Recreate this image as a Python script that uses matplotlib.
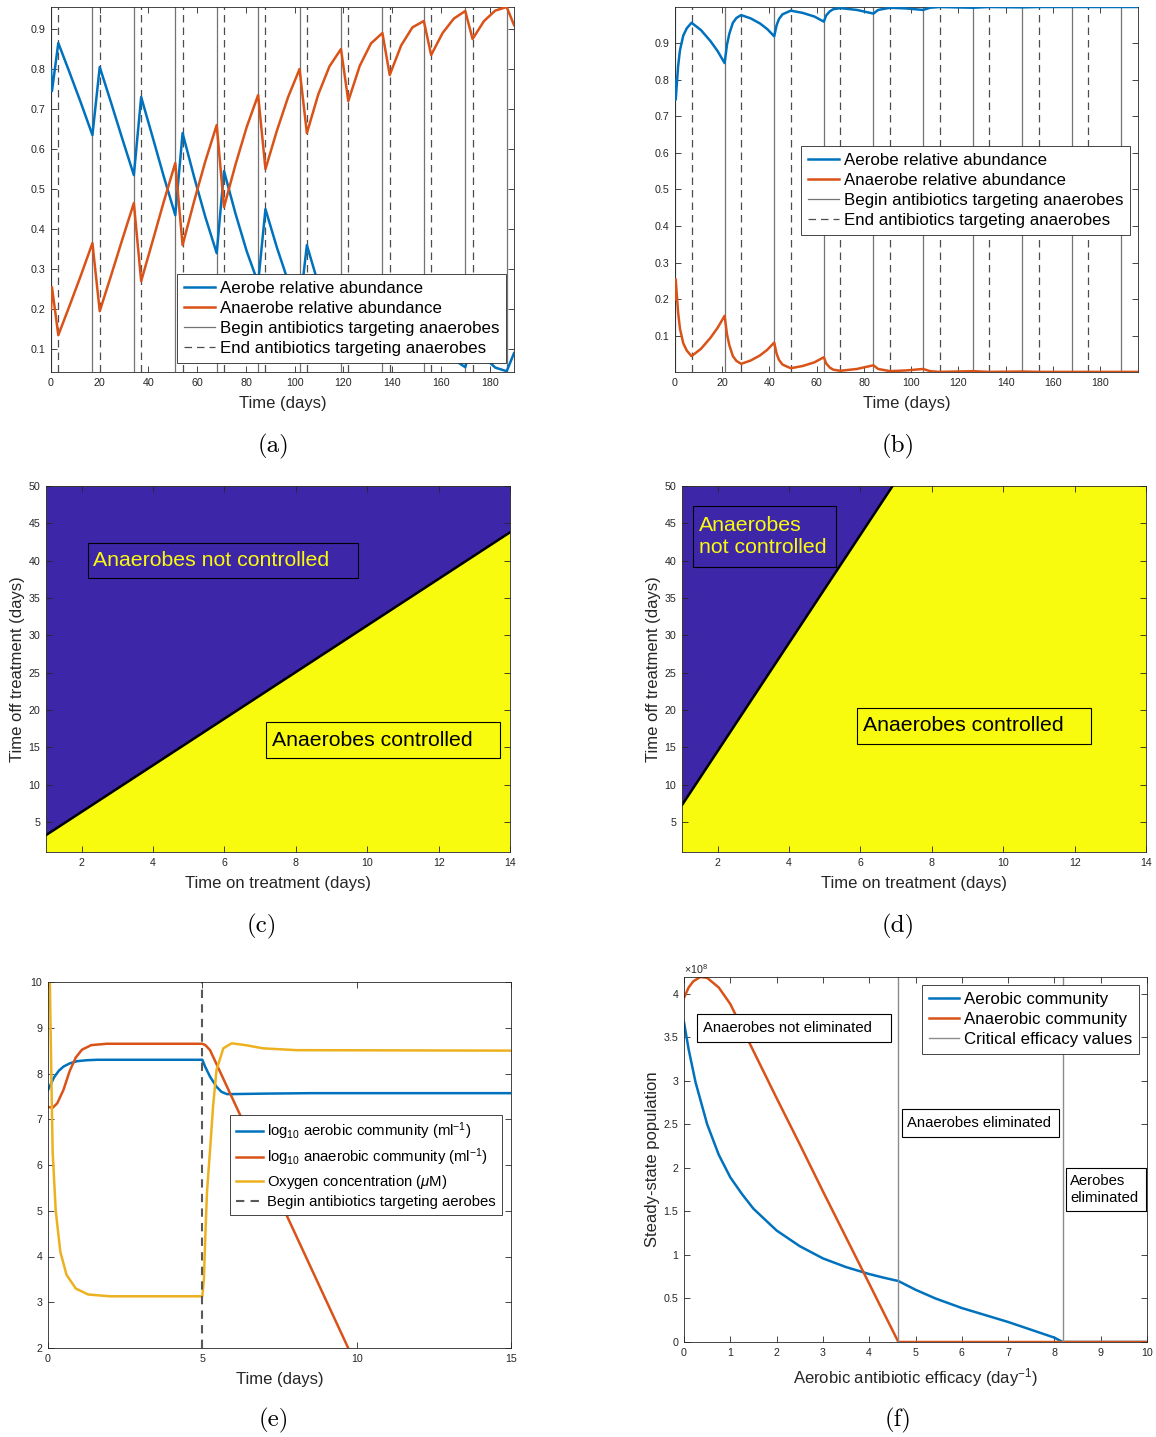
import matplotlib
matplotlib.use('Agg')
import matplotlib.pyplot as plt
from matplotlib.patches import Rectangle

BLUE = '#0072BD'
ORANGE = '#D95319'
GOLD = '#EDB120'
PURPLE = '#3E26A8'
BRIGHT = '#F9FB0E'
INK = '#262626'

# (a) anaerobe-targeting antibiotics, 3 days on / 14 days off
days_a = [0, 0.4,
          3, 7.7, 12.3, 17, 20, 24.7, 29.3, 34, 37, 41.7, 46.3, 51, 54, 58.7, 63.3, 68,
          71, 75.7, 80.3, 85, 88, 92.7, 97.3, 102, 105, 109.7, 114.3, 119, 122, 126.7, 131.3, 136,
          139, 143.7, 148.3, 153, 156, 160.7, 165.3, 170, 173, 177.7, 182.3, 187,
          190]
aerobe_a = [0.80, 0.745,
            0.865, 0.79, 0.715, 0.635, 0.805, 0.715, 0.625, 0.535, 0.73, 0.63, 0.531, 0.435,
            0.64, 0.531, 0.431, 0.34, 0.545, 0.439, 0.345, 0.265, 0.45, 0.354, 0.27, 0.20,
            0.36, 0.263, 0.193, 0.15, 0.28, 0.192, 0.136, 0.11, 0.215, 0.141, 0.096, 0.08,
            0.165, 0.11, 0.074, 0.055, 0.125, 0.08, 0.054, 0.045,
            0.09]
anaerobe_a = [0.20, 0.255,
              0.135, 0.21, 0.285, 0.365, 0.195, 0.285, 0.375, 0.465, 0.27, 0.37, 0.469, 0.565,
              0.36, 0.469, 0.569, 0.66, 0.455, 0.561, 0.655, 0.735, 0.55, 0.646, 0.73, 0.80,
              0.64, 0.737, 0.807, 0.85, 0.72, 0.808, 0.864, 0.89, 0.785, 0.859, 0.904, 0.92,
              0.835, 0.89, 0.926, 0.945, 0.875, 0.92, 0.946, 0.955,
              0.91]
begin_a = [0, 17, 34, 51, 68, 85, 102, 119, 136, 153, 170, 187]
end_a = [3, 20, 37, 54, 71, 88, 105, 122, 139, 156, 173]

# (b) 7 days on / 14 days off
days_b = [0, 0.3, 1.3, 2.1, 3.5, 5, 7, 11, 15, 18, 21, 22, 23, 24.5, 26, 28, 32, 36, 39, 42,
          43, 44, 45.5, 49, 54, 59, 63, 64, 65.5, 67, 70, 77, 84, 86, 91, 98, 105, 108, 112,
          119, 126, 133, 147, 154, 168, 175, 196]
aerobe_b = [0.80, 0.745, 0.835, 0.88, 0.92, 0.94, 0.955, 0.935, 0.905, 0.878, 0.845, 0.895,
            0.925, 0.955, 0.968, 0.976, 0.967, 0.953, 0.938, 0.918, 0.948, 0.965, 0.978, 0.988,
            0.982, 0.972, 0.958, 0.975, 0.986, 0.992, 0.995, 0.99, 0.98, 0.99, 0.996, 0.994,
            0.99, 0.996, 0.998, 0.997, 0.996, 0.998, 0.997, 0.998, 0.998, 0.998, 0.998]
anaerobe_b = [0.20, 0.255, 0.165, 0.12, 0.08, 0.06, 0.045, 0.065, 0.095, 0.122, 0.155, 0.105,
              0.075, 0.045, 0.032, 0.024, 0.033, 0.047, 0.062, 0.082, 0.052, 0.035, 0.022, 0.012,
              0.018, 0.028, 0.042, 0.025, 0.014, 0.008, 0.005, 0.01, 0.02, 0.01, 0.004, 0.006,
              0.01, 0.004, 0.002, 0.003, 0.004, 0.002, 0.003, 0.002, 0.002, 0.002, 0.002]
begin_b = [0, 21, 42, 63, 84, 105, 126, 147, 168, 189]
end_b = [7, 28, 49, 70, 91, 112, 133, 154, 175]

# (c), (d) control boundary: critical time off treatment vs time on treatment
on_c = [1, 14]
off_c = [3.26, 43.8]
on_d = [1, 6.9]
off_d = [7.28, 50]

# (e) aerobe-targeting antibiotics starting on day 5
t_aer = [0, 0.1, 0.2, 0.35, 0.5, 0.7, 0.95, 1.25, 1.6, 5.0, 5.09, 5.25, 5.46, 5.62, 5.79,
         6.0, 7.0, 8.5, 15]
log_aer = [7.64, 7.78, 7.92, 8.06, 8.15, 8.22, 8.27, 8.29, 8.30, 8.30, 8.15, 7.93, 7.71,
           7.60, 7.55, 7.55, 7.56, 7.57, 7.57]
t_ana = [0, 0.15, 0.3, 0.5, 0.7, 0.9, 1.1, 1.4, 1.9, 5.0, 5.1, 5.25, 6.0, 10.0]
log_ana = [7.27, 7.25, 7.35, 7.64, 8.05, 8.35, 8.52, 8.62, 8.65, 8.65, 8.62, 8.51, 7.42, 1.6]
t_oxy = [0, 0.06, 0.1, 0.15, 0.25, 0.4, 0.6, 0.9, 1.3, 2.0, 5.0, 5.05, 5.1, 5.15, 5.25,
         5.35, 5.46, 5.68, 5.95, 6.4, 6.97, 8.06, 15]
oxygen = [11, 10, 8.3, 6.3, 5.0, 4.1, 3.6, 3.3, 3.17, 3.13, 3.13, 3.5, 4.5, 5.4, 6.33,
          7.3, 8.08, 8.55, 8.66, 8.62, 8.55, 8.51, 8.5]
start_e = 5

# (f) steady states vs aerobic antibiotic efficacy (populations in units of 1e8)
efficacy = [0, 0.1, 0.25, 0.5, 0.75, 1.0, 1.25, 1.5, 2.0, 2.5, 3.0, 3.5, 4.0, 4.3, 4.63,
            5.0, 5.43, 6.0, 6.5, 7.0, 7.5, 8.0, 8.18, 9.0, 10.0]
aerobic_f = [3.67, 3.36, 2.98, 2.50, 2.15, 1.89, 1.70, 1.53, 1.28, 1.10, 0.96, 0.86, 0.78,
             0.74, 0.70, 0.60, 0.50, 0.39, 0.31, 0.23, 0.14, 0.05, 0.0, 0.0, 0.0]
eff_ana = [0, 0.1, 0.2, 0.35, 0.5, 0.75, 1.0, 1.5, 2.0, 2.5, 3.0, 3.5, 4.0, 4.3, 4.63, 10.0]
anaerobic_f = [3.95, 4.07, 4.14, 4.19, 4.18, 4.07, 3.88, 3.34, 2.80, 2.27, 1.73, 1.20, 0.67,
               0.35, 0.0, 0.0]
critical = [4.63, 8.18]

plt.rcParams['font.family'] = ['Liberation Sans', 'DejaVu Sans']
plt.rcParams['mathtext.fontset'] = 'custom'
plt.rcParams['mathtext.rm'] = 'Liberation Sans'
plt.rcParams['mathtext.it'] = 'Liberation Sans:italic'
plt.rcParams['mathtext.bf'] = 'Liberation Sans:bold'

W, H = 1156, 1437
fig = plt.figure(figsize=(W / 100, H / 100), dpi=100)


def make_axes(left, top, right, bottom):
    ax = fig.add_axes([left / W, 1 - bottom / H, (right - left) / W, (bottom - top) / H])
    ax.tick_params(direction='in', top=True, right=True, length=4, width=0.6,
                   labelsize=7.7, colors=INK, pad=4)
    for s in ax.spines.values():
        s.set_linewidth(0.6)
        s.set_color(INK)
    return ax


def add_legend(ax, loc, anchor, size):
    leg = ax.legend(loc=loc, bbox_to_anchor=anchor, fontsize=size, fancybox=False,
                    framealpha=1, edgecolor=INK, borderpad=0.4, labelspacing=0.3,
                    handlelength=1.8, handletextpad=0.3, borderaxespad=0)
    leg.get_frame().set_linewidth(0.6)
    return leg


def text_box(ax, x0, y0, x1, y1, tx, ty, s, color, size, fc='none'):
    # boxed annotation, all positions in axes fractions
    ax.add_patch(Rectangle((x0, y0), x1 - x0, y1 - y0, transform=ax.transAxes,
                           fc=fc, ec='k', lw=0.8, zorder=4))
    ax.text(tx, ty, s, transform=ax.transAxes, color=color, fontsize=size,
            ha='left', va='center', linespacing=1.2, zorder=5)


def panel_label(x, y, s):
    fig.text(x / W, 1 - y / H, s, family='cmr10', fontsize=18, ha='center', va='center')


def abundance_panel(ax, days, aer, ana, begin, end, xmax, ymin, ymax):
    ax.plot(days, aer, color=BLUE, lw=1.8, zorder=3, label='Aerobe relative abundance')
    ax.plot(days, ana, color=ORANGE, lw=1.8, zorder=3, label='Anaerobe relative abundance')
    for i, t in enumerate(begin):
        ax.axvline(t, color='0.45', lw=0.9, zorder=2,
                   label='Begin antibiotics targeting anaerobes' if i == 0 else None)
    for i, t in enumerate(end):
        ax.axvline(t, color='0.3', lw=0.9, ls=(0, (6, 4)), zorder=2,
                   label='End antibiotics targeting anaerobes' if i == 0 else None)
    ax.set_xlim(0, xmax)
    ax.set_ylim(ymin, ymax)
    ax.set_xticks(range(0, 181, 20))
    ax.set_yticks([0.1, 0.2, 0.3, 0.4, 0.5, 0.6, 0.7, 0.8, 0.9])
    ax.set_xlabel('Time (days)', fontsize=12, color=INK, labelpad=6)


# (a)
ax = make_axes(51, 7, 514, 372)
abundance_panel(ax, days_a, aerobe_a, anaerobe_a, begin_a, end_a, 190, 0.043, 0.955)
add_legend(ax, 'lower right', (0.983, 0.025), 12.2)
panel_label(274, 446, '(a)')

# (b)
ax = make_axes(675, 7, 1138, 372)
abundance_panel(ax, days_b, aerobe_b, anaerobe_b, begin_b, end_b, 196, 0.0017, 0.998)
add_legend(ax, 'upper right', (0.983, 0.619), 12.2)
panel_label(898, 446, '(b)')


def control_panel(ax, on, off):
    ax.set_facecolor(BRIGHT)
    ax.fill_between(on, off, 50, color=PURPLE, lw=0)
    ax.plot(on, off, color='k', lw=1.8)
    ax.set_xlim(1, 14)
    ax.set_ylim(1, 50)
    ax.set_xticks(range(2, 15, 2))
    ax.set_yticks(range(5, 51, 5))
    ax.set_xlabel('Time on treatment (days)', fontsize=12, color=INK, labelpad=6)
    ax.set_ylabel('Time off treatment (days)', fontsize=12, color=INK, labelpad=3)


# (c)
ax = make_axes(46, 486, 510, 852)
control_panel(ax, on_c, off_c)
text_box(ax, 0.0905, 0.7486, 0.6724, 0.8443, 0.1013, 0.7964,
         'Anaerobes not controlled', BRIGHT, 15.3)
text_box(ax, 0.4741, 0.2568, 0.9784, 0.3552, 0.4871, 0.306,
         'Anaerobes controlled', 'k', 15.3)
panel_label(262, 926, '(c)')

# (d)
ax = make_axes(682, 486, 1146, 852)
control_panel(ax, on_d, off_d)
text_box(ax, 0.0237, 0.7787, 0.3319, 0.9454, 0.0366, 0.862,
         'Anaerobes\nnot controlled', BRIGHT, 15.3)
text_box(ax, 0.3772, 0.2951, 0.8815, 0.3934, 0.3901, 0.3443,
         'Anaerobes controlled', 'k', 15.3)
panel_label(898, 926, '(d)')

# (e)
ax = make_axes(48, 982, 511, 1348)
ax.plot(t_aer, log_aer, color=BLUE, lw=1.8,
        label=r'log$_{10}$ aerobic community (ml$^{-1}$)')
ax.plot(t_ana, log_ana, color=ORANGE, lw=1.8,
        label=r'log$_{10}$ anaerobic community (ml$^{-1}$)')
ax.plot(t_oxy, oxygen, color=GOLD, lw=1.8, label=r'Oxygen concentration ($\mu$M)')
ax.axvline(start_e, color='0.35', lw=1.5, ls=(0, (4, 3)),
           label='Begin antibiotics targeting aerobes')
ax.set_xlim(0, 15)
ax.set_ylim(2, 10)
ax.set_xticks([0, 5, 10, 15])
ax.set_yticks(range(2, 11))
ax.set_xlabel('Time (days)', fontsize=12, color=INK, labelpad=6)
add_legend(ax, 'upper right', (0.9806, 0.637), 10.7)
panel_label(274, 1420, '(e)')

# (f)
ax = make_axes(684, 977, 1147, 1342)
ax.plot(efficacy, aerobic_f, color=BLUE, lw=1.8, label='Aerobic community')
ax.plot(eff_ana, anaerobic_f, color=ORANGE, lw=1.8, label='Anaerobic community')
for i, c in enumerate(critical):
    ax.axvline(c, color='0.55', lw=1.0, label='Critical efficacy values' if i == 0 else None)
ax.set_xlim(0, 10)
ax.set_ylim(0, 4.19)
ax.set_xticks(range(0, 11))
yt = [0, 0.5, 1, 1.5, 2, 2.5, 3, 3.5, 4]
ax.set_yticks(yt)
ax.set_yticklabels(['%g' % v for v in yt])
ax.text(0, 1.004, r'$\times$10$^{8}$', transform=ax.transAxes, fontsize=7.7, color=INK,
        ha='left', va='bottom')
ax.set_xlabel(r'Aerobic antibiotic efficacy (day$^{-1}$)', fontsize=12, color=INK, labelpad=6)
ax.set_ylabel('Steady-state population', fontsize=12, color=INK, labelpad=3)
add_legend(ax, 'upper right', (0.983, 0.978), 12.2)
text_box(ax, 0.0281, 0.8219, 0.4471, 0.8986, 0.041, 0.8603,
         'Anaerobes not eliminated', 'k', 10.7, fc='white')
text_box(ax, 0.4708, 0.5616, 0.8099, 0.6384, 0.4816, 0.6,
         'Anaerobes eliminated', 'k', 10.7, fc='white')
text_box(ax, 0.825, 0.3589, 0.998, 0.4767, 0.8337, 0.4178,
         'Aerobes\neliminated', 'k', 10.7, fc='white')
panel_label(898, 1420, '(f)')

fig.savefig('out.png', dpi=100)
